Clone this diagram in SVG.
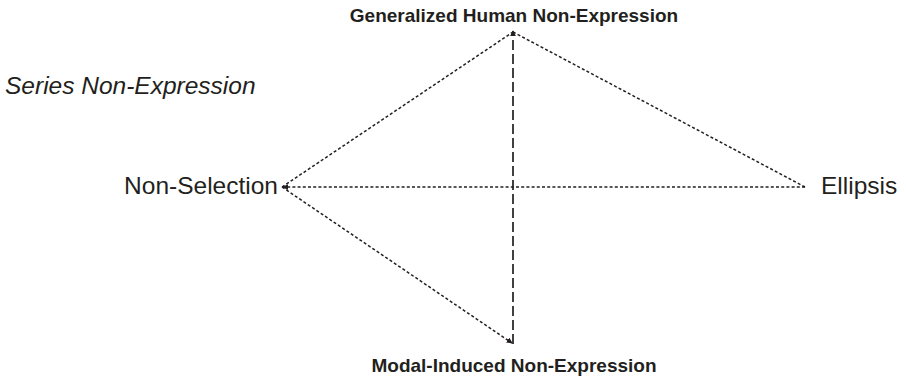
<svg xmlns="http://www.w3.org/2000/svg" width="906" height="377" viewBox="0 0 906 377">
  <style>
    text { font-family: "Liberation Sans", Arial, sans-serif; fill: #231f20; }
    .bold { font-weight: bold; font-size: 19px; }
    .reg { font-size: 24.5px; }
    .ital { font-style: italic; }
    .dot { fill: none; stroke: #231f20; stroke-width: 1.5; stroke-dasharray: 3 2.2; }
    .dash { fill: none; stroke: #231f20; stroke-width: 1.7; stroke-dasharray: 10 4; }
  </style>
  <defs>
    <marker id="tip" viewBox="0 0 8 8" refX="7" refY="4" markerWidth="6" markerHeight="6" orient="auto" markerUnits="userSpaceOnUse">
      <path d="M0,0 L8,4 L0,8 Z" fill="#231f20"/>
    </marker>
  </defs>

  <g id="connectors">
    <!-- diamond outline -->
    <line class="dot" x1="282" y1="187" x2="513" y2="32"/>
    <line class="dot" x1="513" y1="32" x2="805" y2="187"/>
    <line class="dot" x1="282" y1="187" x2="512" y2="343" marker-end="url(#tip)"/>
    <!-- horizontal axis -->
    <line class="dot" x1="805" y1="187" x2="283" y2="187" marker-end="url(#tip)"/>
    <!-- vertical axis -->
    <line class="dash" x1="513" y1="344" x2="513" y2="31" marker-end="url(#tip)"/>
  </g>

  <g id="node-generalized">
    <text class="bold" x="514" y="22" text-anchor="middle">Generalized Human Non-Expression</text>
  </g>
  <g id="node-series">
    <text class="reg ital" x="5" y="94">Series Non-Expression</text>
  </g>
  <g id="node-non-selection">
    <text class="reg" x="278" y="194" text-anchor="end">Non-Selection</text>
  </g>
  <g id="node-ellipsis">
    <text class="reg" x="821" y="194">Ellipsis</text>
  </g>
  <g id="node-modal">
    <text class="bold" x="514" y="372" text-anchor="middle">Modal-Induced Non-Expression</text>
  </g>
</svg>
